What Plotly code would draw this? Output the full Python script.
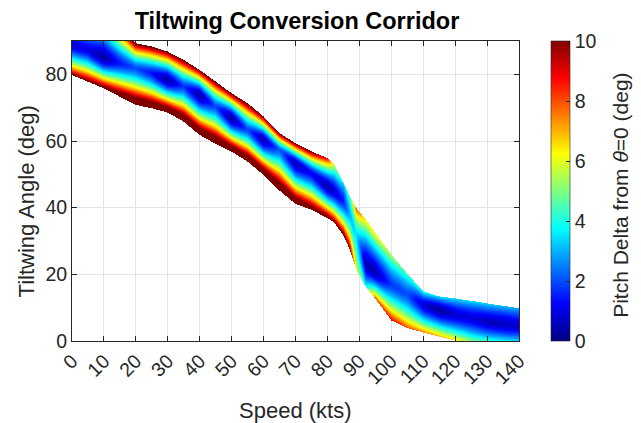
import numpy as np
import plotly.graph_objects as go

# Corridor description at each speed station (kts)
speed_kts = [0, 5, 10, 15, 20, 25, 30, 35, 40, 45, 50, 55, 60, 65, 70, 75, 80,
             82, 85, 87, 89, 92, 95, 100, 105, 110, 115, 120, 125, 130, 135, 140]

# Lower boundary of the trimmable region (deg)
lower_edge = [80, 78, 76, 73.5, 71, 70, 68.7, 66, 62, 59.3, 57, 54, 50, 45.3, 41.3, 39.5, 37,
              35.8, 31.8, 27.5, 21.5, 16.3, 12.8, 6.3, 4, 2.7, 1.5, 0.3, 0, 0, 0, 0]

# Tiltwing angle where the pitch delta is smallest (deg)
center_line = [89, 87.5, 85, 83.5, 82, 80.5, 78.5, 76.5, 74, 70.5, 67, 63.5, 60.5, 57.5, 53.5, 50.5, 46.5,
               45, 42, 38, 32, 23, 20.5, 17, 14, 11, 9.5, 8, 7, 6, 5.2, 4.5]

# Upper boundary of the trimmable region (deg)
upper_edge = [100, 100, 100, 95, 89.5, 88.5, 87, 84.5, 81.5, 78, 74.5, 71.5, 67.5, 62.5, 59.5, 57, 55,
              53.3, 47.5, 43.5, 40, 36.5, 32.5, 26, 20.3, 15, 13.5, 12.9, 12.2, 11.4, 10.7, 9.9]

# Pitch delta along the centre line, lower boundary and upper boundary (deg)
delta_center = [0.8, 1.0, 0.3, 1.4, 2.0, 1.4, 0.3, 1.8, 0.3, 2.0, 0.2, 2.0, 0.4, 2.2, 0.5, 1.2, 0.4,
                0.8, 1.5, 3.0, 3.5, 0.5, 0.5, 1.8, 2.0, 0.8, 0.3, 0.8, 0.9, 0.6, 0.6, 0.8]
delta_lower = [10, 10.5, 11, 12, 13, 13, 13, 13, 13, 13, 13, 13, 13, 13, 12.5, 11.5, 11,
               10.5, 10.5, 10, 6, 4, 8, 9, 8, 7.5, 7, 6.5, 5.2, 4.4, 3.9, 3.5]
delta_upper = [10, 10, 10, 10.5, 10.5, 10.5, 10.5, 10.5, 10.5, 10.5, 10.5, 10.5, 10.5, 10.5, 10.5, 10.3, 9,
               6, 3.5, 4.5, 8, 6.5, 6.5, 5.5, 4.5, 4, 3.6, 3.5, 3.5, 3.4, 3.2, 3.0]

x_ticks = list(range(0, 141, 10))
y_ticks = list(range(0, 81, 20))
cbar_ticks = list(range(0, 11, 2))

# Evaluate the pitch-delta field on a fine speed / tilt grid
xs = np.linspace(0, 140, 449)
ys = np.linspace(0, 90, 301)
lo = np.interp(xs, speed_kts, lower_edge)[None, :]
ce = np.interp(xs, speed_kts, center_line)[None, :]
up = np.interp(xs, speed_kts, upper_edge)[None, :]
dc = np.interp(xs, speed_kts, delta_center)[None, :]
dl = np.interp(xs, speed_kts, delta_lower)[None, :]
du = np.interp(xs, speed_kts, delta_upper)[None, :]
Y = ys[:, None]

shape = 1.45  # growth of the delta away from the centre line
t_up = np.clip((Y - ce) / (up - ce), 0, None) ** shape
t_lo = np.clip((ce - Y) / (ce - lo), 0, None) ** shape
z = np.where(Y >= ce, dc + (du - dc) * t_up, dc + (dl - dc) * t_lo)
z[(Y > up + 1e-9) | (Y < lo - 1e-9)] = np.nan

jet = [[0.0, "rgb(0,0,128)"], [0.125, "rgb(0,0,255)"], [0.375, "rgb(0,255,255)"],
       [0.625, "rgb(255,255,0)"], [0.875, "rgb(255,0,0)"], [1.0, "rgb(128,0,0)"]]

FONT = "Liberation Sans, Arial, Helvetica, sans-serif"
AX = "#262626"

fig = go.Figure(go.Heatmap(
    x=xs, y=ys, z=z, zmin=0, zmax=10, colorscale=jet, zsmooth=False,
    hoverongaps=False,
    colorbar=dict(
        x=1.0716, xanchor="left", y=0.5, yanchor="middle", len=1.0, lenmode="fraction",
        ypad=0, xpad=0, thickness=19, outlinecolor=AX, outlinewidth=0.6,
        ticks="inside", ticklen=4, tickcolor=AX, tickvals=cbar_ticks,
        tickfont=dict(family=FONT, size=19.5, color=AX),
    ),
))

axis_common = dict(
    showline=True, linecolor=AX, linewidth=1, mirror="ticks",
    ticks="inside", ticklen=5, tickcolor=AX, automargin=False,
    showgrid=True, gridcolor="#e3e3e3", gridwidth=1, zeroline=False,
    tickfont=dict(family=FONT, size=19.5, color=AX),
)

label_font = dict(family=FONT, size=22, color=AX)

fig.update_layout(
    width=641, height=423,
    margin=dict(l=72, r=122, t=41, b=82, autoexpand=False),
    paper_bgcolor="white", plot_bgcolor="white",
    title=dict(text="<b>Tiltwing Conversion Corridor</b>", x=0.4633, xanchor="center",
               y=0.95, yanchor="middle", font=dict(family=FONT, size=23.5, color="black")),
    xaxis=dict(range=[0, 140], tickvals=x_ticks, tickangle=-45, **axis_common),
    yaxis=dict(range=[0, 90], tickvals=y_ticks, **axis_common),
    annotations=[
        dict(text="Speed (kts)", xref="paper", yref="paper", x=0.5, y=-0.23,
             xanchor="center", yanchor="middle", showarrow=False, font=label_font),
        dict(text="Tiltwing Angle (deg)", textangle=-90, xref="paper", yref="paper",
             x=-0.1007, y=0.465, xanchor="center", yanchor="middle", showarrow=False, font=label_font),
        dict(text="Pitch Delta from <i>θ</i>=0 (deg)", textangle=-90,
             xref="paper", yref="paper", x=1.228, y=0.487, xanchor="center", yanchor="middle",
             showarrow=False, font=dict(family=FONT, size=21, color=AX)),
    ],
)

fig.write_html("out.html")
